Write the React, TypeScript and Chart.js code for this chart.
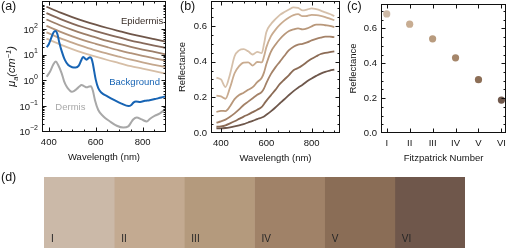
import React, { useEffect, useRef } from 'react';
import { Chart, registerables } from 'chart.js';
Chart.register(...registerables);

const FONT = '"Liberation Sans", Arial, Helvetica, sans-serif';
const TXT = '#141414';

// ---------- Panel (a): absorption coefficients ----------
const EPI_WL = [390, 450, 500, 550, 600, 650, 700, 750, 800, 850, 900];
const EPI_1 = [760, 444, 299, 209, 151, 112, 85, 65, 51, 41, 33];
const EPI_2 = [426, 249, 167, 117, 85, 63, 48, 36, 29, 23, 18.5];
const EPI_3 = [240, 140, 94, 66, 48, 35, 27, 20.5, 16, 13, 10.4];
const EPI_4 = [135, 79, 53, 37, 27, 20, 15, 11.6, 9.1, 7.3, 5.9];
const EPI_5 = [76, 44, 30, 21, 15, 11.2, 8.5, 6.5, 5.1, 4.1, 3.3];
const EPI_6 = [43, 25, 16.7, 11.7, 8.5, 6.3, 4.8, 3.6, 2.9, 2.3, 1.85];
const EPI_SERIES = [EPI_1, EPI_2, EPI_3, EPI_4, EPI_5, EPI_6];
const EPI_COLORS = ['#6f5649', '#86695a', '#9c7e68', '#b19279', '#c4a78d', '#d6bea6'];

const BG_WL = [391, 400, 410, 420, 428, 436, 445, 455, 468, 483, 500, 515, 528, 538, 546, 556, 562, 568, 576, 582, 588, 594, 600, 611, 625, 650, 680, 710, 740, 752, 762, 772, 790, 810, 830, 860, 880, 900];
const BG_VAL = [20, 26, 45, 75, 85, 68, 30, 14, 6.5, 4, 3.3, 3.2, 3.8, 6, 8.3, 7, 6.5, 7.3, 8, 7.2, 4.5, 2.2, 1.1, 0.5, 0.33, 0.24, 0.17, 0.125, 0.1, 0.11, 0.14, 0.15, 0.145, 0.16, 0.17, 0.195, 0.215, 0.245];

const DER_WL = [391, 405, 418, 430, 440, 455, 465, 476, 488, 498, 510, 520, 530, 540, 550, 562, 572, 580, 588, 597, 611, 632, 661, 690, 718, 739, 750, 760, 775, 796, 818, 832, 853, 874, 900];
const DER_VAL = [1.4, 2.2, 4.0, 5.5, 4.0, 1.9, 0.95, 0.58, 0.42, 0.36, 0.4, 0.47, 0.58, 0.66, 0.6, 0.54, 0.58, 0.6, 0.4, 0.17, 0.07, 0.04, 0.025, 0.017, 0.0145, 0.016, 0.022, 0.03, 0.036, 0.03, 0.025, 0.032, 0.042, 0.052, 0.08];

const BLUE = '#1764b4';
const GRAY = '#a8a8a8';

const LOG_TICKS = [0.01, 0.1, 1, 10, 100];
const LOG_EXP = ['\u22122', '\u22121', '0', '1', '2'];
const WL_TICKS = [400, 600, 800];
const WL_MINOR = [350, 450, 500, 550, 650, 700, 750, 850, 900];

const ANNOTS = [
  { text: 'Epidermis', x: 798, y: 210, color: '#3a2f29' },
  { text: 'Background', x: 766, y: 0.87, color: BLUE },
  { text: 'Dermis', x: 492, y: 0.088, color: GRAY },
];

// ---------- Panel (b): reflectance spectra ----------
const REF_WL = [380, 400, 420, 440, 460, 480, 500, 520, 540, 560, 580, 590, 600, 620, 640, 660, 680, 700, 720, 740, 760, 780, 800, 820, 840, 860, 880, 900];
const REF_1 = [0.31, 0.30, 0.258, 0.33, 0.43, 0.463, 0.47, 0.458, 0.44, 0.455, 0.448, 0.50, 0.565, 0.61, 0.638, 0.662, 0.678, 0.692, 0.704, 0.702, 0.687, 0.692, 0.699, 0.694, 0.686, 0.676, 0.667, 0.656];
const REF_2 = [0.21, 0.205, 0.192, 0.255, 0.335, 0.375, 0.395, 0.396, 0.378, 0.398, 0.396, 0.43, 0.48, 0.542, 0.578, 0.607, 0.63, 0.648, 0.661, 0.666, 0.655, 0.656, 0.662, 0.661, 0.657, 0.65, 0.641, 0.632];
const REF_3 = [0.118, 0.124, 0.123, 0.15, 0.19, 0.213, 0.226, 0.242, 0.257, 0.285, 0.31, 0.34, 0.385, 0.455, 0.495, 0.527, 0.553, 0.572, 0.581, 0.587, 0.581, 0.586, 0.598, 0.608, 0.608, 0.604, 0.6, 0.594];
const REF_4 = [0.058, 0.065, 0.075, 0.091, 0.11, 0.132, 0.157, 0.176, 0.195, 0.214, 0.23, 0.25, 0.28, 0.33, 0.368, 0.40, 0.433, 0.464, 0.484, 0.495, 0.50, 0.508, 0.519, 0.528, 0.535, 0.54, 0.54, 0.537];
const REF_5 = [0.035, 0.037, 0.043, 0.054, 0.066, 0.079, 0.092, 0.104, 0.117, 0.13, 0.146, 0.163, 0.18, 0.211, 0.242, 0.275, 0.30, 0.325, 0.352, 0.364, 0.38, 0.399, 0.416, 0.43, 0.443, 0.449, 0.454, 0.458];
const REF_6 = [0.026, 0.026, 0.028, 0.032, 0.037, 0.043, 0.05, 0.059, 0.068, 0.078, 0.087, 0.093, 0.102, 0.121, 0.143, 0.167, 0.189, 0.213, 0.235, 0.254, 0.27, 0.29, 0.306, 0.32, 0.333, 0.343, 0.35, 0.355];
const REF_SERIES = [REF_1, REF_2, REF_3, REF_4, REF_5, REF_6];
const REF_COLORS = ['#d6c0aa', '#c9ab8f', '#b8977a', '#a48268', '#8b6b55', '#6e574b'];
const REFL_TICKS = [0, 0.2, 0.4, 0.6];
const REFL_MINOR = [0.05, 0.1, 0.15, 0.25, 0.3, 0.35, 0.45, 0.5, 0.55, 0.65, 0.7];

// ---------- Panel (c): reflectance per Fitzpatrick type ----------
const ROMAN = ['I', 'II', 'III', 'IV', 'V', 'VI'];
const FITZ_NUM = [1, 2, 3, 4, 5, 6];
const FITZ_REFL = [0.683, 0.624, 0.54, 0.431, 0.306, 0.189];
const FITZ_COLORS = ['#cdb9a6', '#c8ad92', '#b89b7e', '#a5866a', '#8c6e56', '#6f584c'];

// ---------- Panel (d): skin colour swatches ----------
const SWATCH_COLORS = ['#cbb9a8', '#c3aa91', '#b49a7d', '#a08268', '#8a6d56', '#6f574b'];

type FrameCfg = { xMajor: number[]; xMinor: number[]; yMajor: number[]; yMinor: number[] };

function makeFrame(cfg: FrameCfg) {
  return {
    id: 'frame',
    afterDatasetsDraw(chart: any) {
      const { ctx, chartArea: a, scales } = chart;
      const xs = scales.x;
      const ys = scales.y;
      const L = Math.round(a.left) + 0.5;
      const R = Math.round(a.right) - 0.5;
      const T = Math.round(a.top) + 0.5;
      const B = Math.round(a.bottom) - 0.5;
      ctx.save();
      ctx.strokeStyle = '#111';
      ctx.lineWidth = 1;
      ctx.strokeRect(L, T, R - L, B - T);
      ctx.beginPath();
      const xt = (vals: number[], len: number) => {
        vals.forEach((v) => {
          let p = Math.round(xs.getPixelForValue(v)) + 0.5;
          if (p < L - 1 || p > R + 1) return;
          p = Math.min(Math.max(p, L), R);
          ctx.moveTo(p, B);
          ctx.lineTo(p, B - len);
          ctx.moveTo(p, T);
          ctx.lineTo(p, T + len);
        });
      };
      const yt = (vals: number[], len: number) => {
        vals.forEach((v) => {
          let p = Math.round(ys.getPixelForValue(v)) + 0.5;
          if (p < T - 1 || p > B + 1) return;
          p = Math.min(Math.max(p, T), B);
          ctx.moveTo(L, p);
          ctx.lineTo(L + len, p);
          ctx.moveTo(R, p);
          ctx.lineTo(R - len, p);
        });
      };
      xt(cfg.xMajor, 4);
      xt(cfg.xMinor, 2);
      yt(cfg.yMajor, 4);
      yt(cfg.yMinor, 2);
      ctx.stroke();
      ctx.restore();
    },
  };
}

const noPad = (s: any) => {
  s.paddingTop = 0;
  s.paddingBottom = 0;
  s.paddingLeft = 0;
  s.paddingRight = 0;
};

const tickFont = { family: FONT, size: 9.5 };

function xAxis(min: number, max: number, ticks: number[], title: string, fmt?: (v: number) => string) {
  return {
    type: 'linear',
    min,
    max,
    afterBuildTicks: (s: any) => {
      s.ticks = ticks.map((value) => ({ value }));
    },
    afterFit: (s: any) => {
      s.height = 31.5;
      noPad(s);
    },
    grid: { display: false, drawTicks: false },
    border: { display: false },
    ticks: {
      padding: 5,
      font: tickFont,
      color: TXT,
      maxRotation: 0,
      autoSkip: false,
      callback: fmt ? (v: any) => fmt(Number(v)) : (v: any) => String(v),
    },
    title: { display: true, text: title, font: tickFont, color: TXT, padding: { top: 0, bottom: 0 } },
  };
}

function reflY(titlePad: number) {
  return {
    type: 'linear',
    min: 0,
    max: 0.74,
    afterBuildTicks: (s: any) => {
      s.ticks = REFL_TICKS.map((value) => ({ value }));
    },
    afterFit: (s: any) => {
      s.width = 41;
      noPad(s);
    },
    grid: { display: false, drawTicks: false },
    border: { display: false },
    ticks: { padding: 4, font: tickFont, color: TXT, autoSkip: false, callback: (v: any) => Number(v).toFixed(1) },
    title: { display: true, text: 'Reflectance', font: tickFont, color: TXT, padding: { top: titlePad, bottom: 0 } },
  };
}

const muTitlePlugin = {
  id: 'muTitle',
  afterDraw(chart: any) {
    const { ctx, chartArea: a } = chart;
    const cy = (a.top + a.bottom) / 2;
    const cx = 11;
    const segs = [
      { t: '\u03bc', size: 11, dy: 0 },
      { t: 'a', size: 7.5, dy: 2.5 },
      { t: '(cm', size: 11, dy: 0 },
      { t: '\u22121', size: 7.5, dy: -4.5 },
      { t: ')', size: 11, dy: 0 },
    ];
    ctx.save();
    ctx.translate(cx, cy);
    ctx.rotate(-Math.PI / 2);
    ctx.fillStyle = TXT;
    ctx.textAlign = 'left';
    ctx.textBaseline = 'alphabetic';
    let total = 0;
    segs.forEach((s) => {
      ctx.font = `italic ${s.size}px ${FONT}`;
      total += ctx.measureText(s.t).width;
    });
    let x = -total / 2;
    segs.forEach((s) => {
      ctx.font = `italic ${s.size}px ${FONT}`;
      ctx.fillText(s.t, x, 4 + s.dy);
      x += ctx.measureText(s.t).width;
    });
    ctx.restore();
  },
};

const logLabelsPlugin = {
  id: 'logLabels',
  afterDraw(chart: any) {
    const { ctx, chartArea: a, scales } = chart;
    const y = scales.y;
    ctx.save();
    ctx.fillStyle = TXT;
    ctx.textAlign = 'right';
    ctx.textBaseline = 'alphabetic';
    LOG_TICKS.forEach((v, i) => {
      const py = y.getPixelForValue(v);
      const right = a.left - 4;
      ctx.font = `7px ${FONT}`;
      const e = LOG_EXP[i];
      const ew = ctx.measureText(e).width;
      ctx.fillText(e, right, py - 1.5);
      ctx.font = `9.5px ${FONT}`;
      ctx.fillText('10', right - ew, py + 3.5);
    });
    ctx.restore();
  },
};

const annotPlugin = {
  id: 'annot',
  afterDatasetsDraw(chart: any) {
    const { ctx, scales } = chart;
    ctx.save();
    ctx.font = `9.5px ${FONT}`;
    ctx.textAlign = 'center';
    ctx.textBaseline = 'middle';
    ANNOTS.forEach((an) => {
      ctx.fillStyle = an.color;
      ctx.fillText(an.text, scales.x.getPixelForValue(an.x), scales.y.getPixelForValue(an.y));
    });
    ctx.restore();
  },
};

const swatchLabelPlugin = {
  id: 'swatchLabels',
  afterDatasetsDraw(chart: any) {
    const { ctx, chartArea: a } = chart;
    ctx.save();
    ctx.font = `10px ${FONT}`;
    ctx.fillStyle = '#262626';
    ctx.textAlign = 'left';
    ctx.textBaseline = 'alphabetic';
    chart.data.datasets.forEach((_ds: any, i: number) => {
      const el: any = chart.getDatasetMeta(i).data[0];
      const left = Math.min(el.base, el.x);
      ctx.fillText(ROMAN[i], left + 7, a.bottom - 6.3);
    });
    ctx.restore();
  },
};

const pts = (xs: number[], ys: number[]) => xs.map((x, i) => ({ x, y: ys[i] }));

const baseOpts = {
  animation: false,
  responsive: false,
  devicePixelRatio: 1,
  events: [],
};

function cfgA(): any {
  const datasets: any[] = [
    { data: pts(BG_WL, BG_VAL), borderColor: BLUE, borderWidth: 2 },
    { data: pts(DER_WL, DER_VAL), borderColor: GRAY, borderWidth: 2 },
    ...EPI_SERIES.map((s, i) => ({ data: pts(EPI_WL, s), borderColor: EPI_COLORS[i], borderWidth: 1.8 })),
  ].map((d) => ({ ...d, pointRadius: 0, fill: false, cubicInterpolationMode: 'monotone' }));
  const logMinor: number[] = [];
  [0.001, 0.01, 0.1, 1, 10, 100, 1000].forEach((d) => {
    for (let k = 2; k <= 9; k++) logMinor.push(d * k);
  });
  return {
    type: 'line',
    data: { datasets },
    options: {
      ...baseOpts,
      layout: { padding: { left: 0, top: 1, right: 510 - 166, bottom: 248 - 132 - 31.5 } },
      scales: {
        x: xAxis(371, 900, WL_TICKS, 'Wavelength (nm)'),
        y: {
          type: 'logarithmic',
          min: 0.0097,
          max: 1270,
          afterFit: (s: any) => {
            s.width = 42;
            noPad(s);
          },
          grid: { display: false, drawTicks: false },
          border: { display: false },
          ticks: { display: false },
        },
      },
      plugins: { legend: { display: false }, tooltip: { enabled: false } },
    },
    plugins: [
      makeFrame({ xMajor: WL_TICKS, xMinor: WL_MINOR, yMajor: LOG_TICKS, yMinor: logMinor }),
      muTitlePlugin,
      logLabelsPlugin,
      annotPlugin,
    ],
  };
}

function cfgB(): any {
  return {
    type: 'line',
    data: {
      datasets: REF_SERIES.map((s, i) => ({
        data: pts(REF_WL, s),
        borderColor: REF_COLORS[i],
        borderWidth: 1.8,
        pointRadius: 0,
        fill: false,
        cubicInterpolationMode: 'monotone',
      })),
    },
    options: {
      ...baseOpts,
      layout: { padding: { left: 170, top: 1, right: 510 - 340, bottom: 248 - 133 - 31.5 } },
      scales: {
        x: xAxis(356, 925, WL_TICKS, 'Wavelength (nm)'),
        y: reflY(6.8),
      },
      plugins: { legend: { display: false }, tooltip: { enabled: false } },
    },
    plugins: [makeFrame({ xMajor: WL_TICKS, xMinor: WL_MINOR, yMajor: REFL_TICKS, yMinor: REFL_MINOR })],
  };
}

function cfgC(): any {
  return {
    type: 'scatter',
    data: {
      datasets: [
        {
          data: pts(FITZ_NUM, FITZ_REFL),
          pointRadius: 3.6,
          pointBorderWidth: 0,
          pointBackgroundColor: FITZ_COLORS,
          borderColor: 'transparent',
          clip: false,
        },
      ],
    },
    options: {
      ...baseOpts,
      layout: { padding: { left: 340, top: 1, right: 2, bottom: 248 - 133 - 31.5 } },
      scales: {
        x: xAxis(0.75, 6.2, FITZ_NUM, 'Fitzpatrick Number', (v) => ROMAN[v - 1] ?? ''),
        y: reflY(7.8),
      },
      plugins: { legend: { display: false }, tooltip: { enabled: false } },
    },
    plugins: [makeFrame({ xMajor: FITZ_NUM, xMinor: [], yMajor: REFL_TICKS, yMinor: REFL_MINOR })],
  };
}

function cfgD(): any {
  return {
    type: 'bar',
    data: {
      labels: ['skin'],
      datasets: SWATCH_COLORS.map((c, i) => ({
        label: ROMAN[i],
        data: [1],
        backgroundColor: c,
        borderWidth: 0,
        barPercentage: 1,
        categoryPercentage: 1,
      })),
    },
    options: {
      ...baseOpts,
      indexAxis: 'y',
      layout: { padding: { left: 44, top: 177, right: 45, bottom: 0 } },
      scales: {
        x: { stacked: true, min: 0, max: 6, display: false },
        y: { stacked: true, display: false },
      },
      plugins: { legend: { display: false }, tooltip: { enabled: false } },
    },
    plugins: [swatchLabelPlugin],
  };
}

const abs: React.CSSProperties = { position: 'absolute', left: 0, top: 0, width: 510, height: 248 };
const panelLbl = (left: number, top: number): React.CSSProperties => ({
  position: 'absolute',
  left,
  top,
  fontFamily: FONT,
  fontSize: 12.5,
  lineHeight: '12px',
  color: TXT,
  whiteSpace: 'nowrap',
});

export default function App() {
  const ra = useRef<HTMLCanvasElement>(null);
  const rb = useRef<HTMLCanvasElement>(null);
  const rc = useRef<HTMLCanvasElement>(null);
  const rd = useRef<HTMLCanvasElement>(null);

  useEffect(() => {
    document.body.style.margin = '0';
    const charts = [
      new Chart(rd.current!, cfgD()),
      new Chart(ra.current!, cfgA()),
      new Chart(rb.current!, cfgB()),
      new Chart(rc.current!, cfgC()),
    ];
    return () => charts.forEach((c) => c.destroy());
  }, []);

  return (
    <div style={{ position: 'fixed', left: 0, top: 0, width: 510, height: 248, background: '#fff', overflow: 'hidden' }}>
      <canvas ref={rd} width={510} height={248} style={abs} />
      <canvas ref={ra} width={510} height={248} style={abs} />
      <canvas ref={rb} width={510} height={248} style={abs} />
      <canvas ref={rc} width={510} height={248} style={abs} />
      <div style={panelLbl(1, 0)}>(a)</div>
      <div style={panelLbl(180, 0)}>(b)</div>
      <div style={panelLbl(347, 0)}>(c)</div>
      <div style={panelLbl(1, 171)}>(d)</div>
    </div>
  );
}
